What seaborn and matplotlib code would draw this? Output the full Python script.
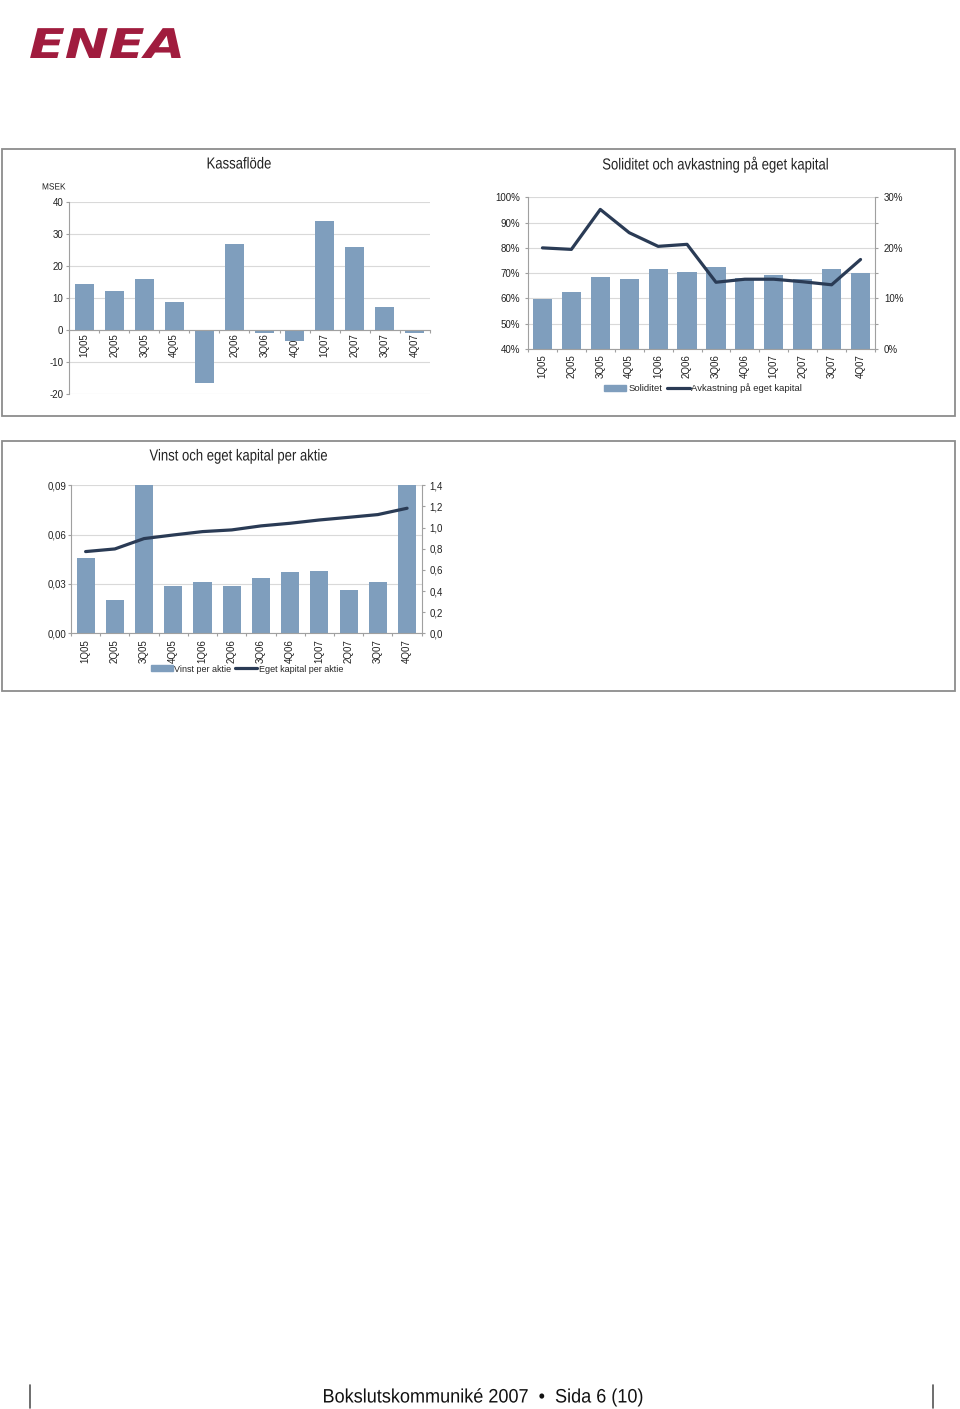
import numpy as np
import matplotlib
matplotlib.use("Agg")
import matplotlib.pyplot as plt
import seaborn as sns
from matplotlib.patches import Rectangle, Patch
from matplotlib.lines import Line2D
from matplotlib.ticker import FuncFormatter, MultipleLocator, FixedLocator
from matplotlib.patheffects import AbstractPathEffect
from matplotlib.transforms import Affine2D

# ---------------- data ----------------
quarters = ["1Q05", "2Q05", "3Q05", "4Q05", "1Q06", "2Q06",
            "3Q06", "4Q06", "1Q07", "2Q07", "3Q07", "4Q07"]
kassaflode = [14.6, 12.3, 15.9, 8.8, -16.4, 26.9,
              -0.7, -3.5, 34.2, 26.1, 7.3, -0.9]
soliditet = [59.7, 62.6, 68.5, 67.6, 71.5, 70.5,
             72.5, 68.0, 69.2, 67.6, 71.5, 69.9]
avkastning = [20.0, 19.7, 27.6, 23.0, 20.3, 20.7,
              13.2, 13.8, 13.8, 13.3, 12.7, 17.7]
vinst_per_aktie = [0.0456, 0.0203, 0.090, 0.029, 0.0314, 0.029,
                   0.0339, 0.0371, 0.0377, 0.0264, 0.0312, 0.090]
eget_kapital_per_aktie = [0.773, 0.798, 0.896, 0.930, 0.962, 0.978,
                          1.016, 1.041, 1.072, 1.097, 1.123, 1.183]

# ---------------- style ----------------
sns.set_theme(style="white")
plt.rcParams["font.family"] = ["Liberation Sans", "DejaVu Sans"]
plt.rcParams["axes.unicode_minus"] = False

BAR = "#7F9EBD"
LINE = "#2A3B55"
GRID = "#D9D9D9"
SPINE = "#A0A0A0"
TXT = "#222222"
TL = 2.2  # tick length in points

W, H = 960, 1409
fig = plt.figure(figsize=(W / 100, H / 100), dpi=100)
fig.patch.set_facecolor("white")


def rect(x0, y_top, x1, y_bot):
    return [x0 / W, 1 - y_bot / H, (x1 - x0) / W, (y_bot - y_top) / H]


def fx(x):
    return x / W


def fy(y):
    return 1 - y / H


class Stretch(AbstractPathEffect):
    """Horizontally scale drawn text about an anchor x (display pixels)."""

    def __init__(self, sx, cx):
        super().__init__()
        self.sx = sx
        self.cx = cx

    def draw_path(self, renderer, gc, tpath, affine, rgbFace=None):
        aff = affine + Affine2D().translate(-self.cx, 0).scale(self.sx, 1) \
            .translate(self.cx, 0)
        renderer.draw_path(gc, tpath, aff, rgbFace)


def stext(x, y, s, sx, **kw):
    t = fig.text(fx(x), fy(y), s, **kw)
    t.set_path_effects([Stretch(sx, x)])
    return t


def style_cat_axis(ax, ypad):
    ax.set_xlabel("")
    ax.set_ylabel("")
    for s in ["top", "right"]:
        ax.spines[s].set_visible(False)
    for s in ["left", "bottom"]:
        ax.spines[s].set_color(SPINE)
        ax.spines[s].set_linewidth(0.8)
    ax.tick_params(axis="x", which="major", length=0, labelsize=7,
                   labelrotation=90, pad=2, colors=TXT)
    ax.xaxis.set_minor_locator(FixedLocator(np.arange(-0.5, len(quarters), 1.0)))
    ax.tick_params(axis="x", which="minor", length=TL, color=SPINE,
                   direction="out", width=0.8, bottom=True)
    ax.tick_params(axis="y", which="major", length=TL, color=SPINE,
                   direction="out", labelsize=7, width=0.8, left=True,
                   pad=ypad)
    ax.tick_params(axis="y", labelcolor=TXT)
    ax.set_xlim(-0.5, len(quarters) - 0.5)
    ax.yaxis.grid(True, color=GRID, lw=0.8)
    ax.xaxis.grid(False)
    ax.set_axisbelow(True)
    ax.set_facecolor("none")


def style_right_axis(ax, pad):
    ax.set_ylabel("")
    for s in ["top", "left", "bottom"]:
        ax.spines[s].set_visible(False)
    ax.spines["right"].set_color(SPINE)
    ax.spines["right"].set_linewidth(0.8)
    ax.tick_params(axis="y", which="both", length=TL, color=SPINE, width=0.8,
                   direction="out", labelsize=7, right=True, pad=pad)
    ax.tick_params(axis="y", labelcolor=TXT)
    ax.grid(False)
    ax.set_xlim(-0.5, len(quarters) - 0.5)


# ---------------- panel frames ----------------
for (x0, y0, x1, y1) in [(1.5, 148.5, 955, 415.5), (1.5, 440.5, 955, 691)]:
    fig.add_artist(Rectangle((fx(x0), fy(y1)), (x1 - x0) / W, (y1 - y0) / H,
                             transform=fig.transFigure, fill=False,
                             ec="#8C8C8C", lw=1.3))

# ---------------- logo ----------------
stext(29, 58, "ENEA", 1.28, fontsize=29.5, fontweight="heavy",
      style="italic", color="#A01C3E", va="baseline", ha="left",
      family=["DejaVu Sans"])

# ---------------- Kassaflöde ----------------
ax1 = fig.add_axes(rect(69, 202.3, 430, 394.3))
sns.barplot(x=quarters, y=kassaflode, color=BAR, saturation=1, width=0.63,
            linewidth=0, ax=ax1)
style_cat_axis(ax1, 1.8)
ax1.set_ylim(-20, 40)
ax1.set_yticks([-20, -10, 0, 10, 20, 30, 40])
ax1.spines["bottom"].set_position(("data", 0))
stext(42, 187, "MSEK", 0.92, fontsize=6.5, color=TXT, va="center",
      ha="left")
stext(239, 164, "Kassaflöde", 0.82, fontsize=11.5, color=TXT,
      ha="center", va="center")

# ---------------- Soliditet ----------------
ax2 = fig.add_axes(rect(528, 197.3, 875, 349))
sns.barplot(x=quarters, y=soliditet, color=BAR, saturation=1, width=0.66,
            linewidth=0, ax=ax2)
style_cat_axis(ax2, 3.4)
ax2.set_ylim(40, 100)
ax2.set_yticks(np.arange(40, 101, 10))
ax2.yaxis.set_major_formatter(FuncFormatter(lambda v, p: f"{v:.0f}%"))
ax2.tick_params(axis="x", which="major", pad=4)

ax2r = ax2.twinx()
sns.lineplot(x=np.arange(len(quarters)), y=avkastning, color=LINE, lw=2.3,
             ax=ax2r)
ax2r.set_ylim(0, 30)
ax2r.set_yticks([0, 10, 20, 30])
ax2r.yaxis.set_minor_locator(MultipleLocator(5))
ax2r.yaxis.set_major_formatter(FuncFormatter(lambda v, p: f"{v:.0f}%"))
style_right_axis(ax2r, 4.2)

stext(716, 164, "Soliditet och avkastning på eget kapital", 0.82,
      fontsize=11.5, color=TXT, ha="center", va="center")
ax2.legend(handles=[Patch(color=BAR, label="Soliditet"),
                    Line2D([], [], color=LINE, lw=2.3,
                           label="Avkastning på eget kapital")],
           loc="center", bbox_to_anchor=(fx(703), fy(388)),
           bbox_transform=fig.transFigure, ncol=2, frameon=False,
           fontsize=6.8, handlelength=2.4, handleheight=0.6,
           columnspacing=0.5, handletextpad=0.2, borderpad=0)

# ---------------- Vinst och eget kapital per aktie ----------------
ax3 = fig.add_axes(rect(71, 485.3, 421.7, 633.3))
sns.barplot(x=quarters, y=vinst_per_aktie, color=BAR, saturation=1,
            width=0.62, linewidth=0, ax=ax3)
style_cat_axis(ax3, 1.4)
ax3.set_ylim(0, 0.09)
ax3.set_yticks([0, 0.03, 0.06, 0.09])
ax3.yaxis.set_major_formatter(
    FuncFormatter(lambda v, p: f"{v:.2f}".replace(".", ",")))
ax3.tick_params(axis="x", which="major", pad=4)

ax3r = ax3.twinx()
sns.lineplot(x=np.arange(len(quarters)), y=eget_kapital_per_aktie,
             color=LINE, lw=2.3, ax=ax3r)
ax3r.set_ylim(0, 1.4)
ax3r.set_yticks(np.arange(0, 1.41, 0.2))
ax3r.yaxis.set_major_formatter(
    FuncFormatter(lambda v, p: f"{v:.1f}".replace(".", ",")))
style_right_axis(ax3r, 3.2)

stext(239, 456, "Vinst och eget kapital per aktie", 0.82,
      fontsize=11.5, color=TXT, ha="center", va="center")
ax3.legend(handles=[Patch(color=BAR, label="Vinst per aktie"),
                    Line2D([], [], color=LINE, lw=2.3,
                           label="Eget kapital per aktie")],
           loc="center", bbox_to_anchor=(fx(247), fy(669)),
           bbox_transform=fig.transFigure, ncol=2, frameon=False,
           fontsize=6.5, handlelength=2.4, handleheight=0.6,
           columnspacing=0.4, handletextpad=0.2, borderpad=0)

# ---------------- footer ----------------
stext(484, 1398, "Bokslutskommuniké 2007  •  Sida 6 (10)", 0.93,
      fontsize=14, color="#111111", ha="center", va="center")
for xx in (30, 933):
    fig.add_artist(Line2D([fx(xx), fx(xx)], [fy(1385), fy(1408)],
                          transform=fig.transFigure, color="#555555", lw=1.2))

fig.savefig("out.png", dpi=100, facecolor="white")
